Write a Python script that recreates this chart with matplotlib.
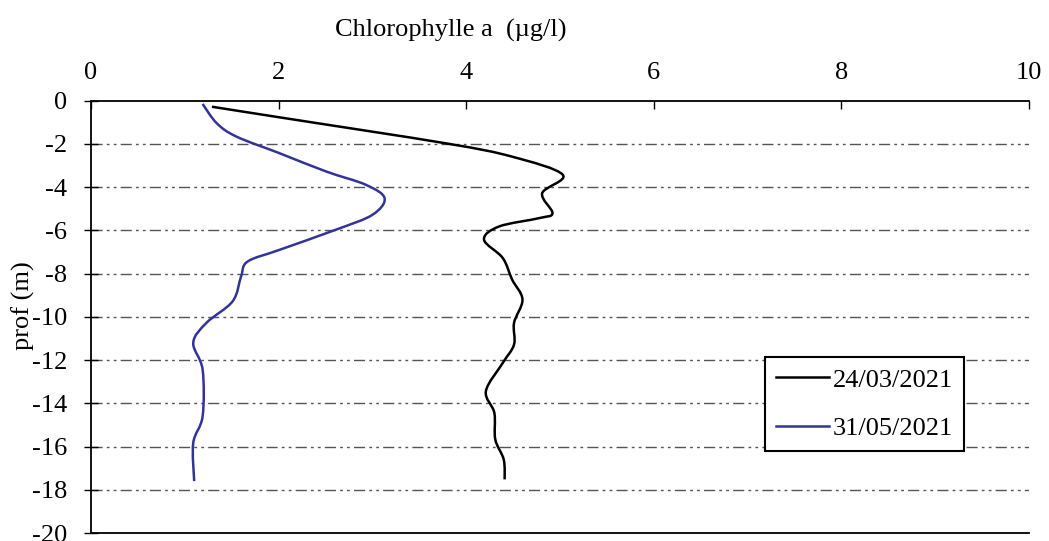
import matplotlib
matplotlib.use("Agg")
import matplotlib.pyplot as plt
from matplotlib.path import Path
from matplotlib.patches import PathPatch
from matplotlib.lines import Line2D

plt.rcParams['font.family'] = ['Liberation Serif', 'DejaVu Serif']

# Series 24/03/2021
chl_0324 = [1.29, 2.01, 3.78, 4.49, 5.03, 4.81, 4.92, 4.78, 4.35, 4.19, 4.39, 4.49,
            4.60, 4.51, 4.51, 4.39, 4.21, 4.30, 4.31, 4.40, 4.41]
depth_0324 = [-0.28, -0.77, -1.97, -2.59, -3.43, -4.28, -5.20, -5.43, -5.82, -6.43, -7.28, -8.28,
              -9.20, -10.28, -11.28, -12.13, -13.44, -14.44, -15.67, -16.60, -17.52]

# Series 31/05/2021
chl_0531 = [1.19, 1.34, 1.55, 2.01, 2.51, 2.93, 3.13, 3.00, 2.61, 2.01, 1.67, 1.60,
            1.51, 1.23, 1.09, 1.19, 1.19, 1.09, 1.10]
depth_0531 = [-0.15, -1.04, -1.66, -2.43, -3.28, -3.89, -4.51, -5.28, -5.97, -6.90, -7.44, -8.13,
              -9.28, -10.28, -11.20, -12.44, -14.60, -15.83, -17.60]

labels = ["24/03/2021", "31/05/2021"]
colors = ['black', '#333399']
x_ticks = [0, 2, 4, 6, 8, 10]
y_ticks = [0, -2, -4, -6, -8, -10, -12, -14, -16, -18, -20]


def smooth_path(xs, ys, t=1/6):
    """Excel-like smoothed line: cubic Bezier segments through the data points."""
    pts = list(zip(xs, ys))
    verts = [pts[0]]
    codes = [Path.MOVETO]
    n = len(pts)
    for i in range(n - 1):
        p0 = pts[i - 1] if i > 0 else pts[i]
        p1 = pts[i]
        p2 = pts[i + 1]
        p3 = pts[i + 2] if i + 2 < n else pts[i + 1]
        c1 = (p1[0] + (p2[0] - p0[0]) * t, p1[1] + (p2[1] - p0[1]) * t)
        c2 = (p2[0] - (p3[0] - p1[0]) * t, p2[1] - (p3[1] - p1[1]) * t)
        verts += [c1, c2, p2]
        codes += [Path.CURVE4] * 3
    return Path(verts, codes)


fig = plt.figure(figsize=(10.49, 5.41), dpi=100)
ax = fig.add_axes([91/1049, 1-533/541, (1029-91)/1049, (533-100.7)/541])

series = [(chl_0324, depth_0324), (chl_0531, depth_0531)]
for (xs, ys), c in zip(series, colors):
    ax.add_patch(PathPatch(smooth_path(xs, ys), fill=False, edgecolor=c, lw=1.8,
                           capstyle='butt', joinstyle='round', zorder=3))

ax.set_xlim(0, 10)
ax.set_ylim(-20, 0)
ax.set_xticks(x_ticks)
ax.set_yticks(y_ticks)
ax.set_yticklabels([str(v) for v in y_ticks])
ax.xaxis.tick_top()
ax.tick_params(axis='x', direction='in', length=6, width=1, labelsize=19, pad=12)
ax.tick_params(axis='y', direction='inout', length=10, width=1, labelsize=19, pad=12)

for g in y_ticks[1:-1]:
    ax.axhline(g, color='#555555', lw=1, linestyle=(0, (8, 3, 2, 3, 2, 3)), zorder=0)

ax.spines['right'].set_visible(False)
for s in ['top', 'bottom', 'left']:
    ax.spines[s].set_linewidth(1.3)

fig.text(451/1049, 1-30/541, "Chlorophylle a  (µg/l)", fontsize=19, ha='center', va='center')
fig.text(23/1049, 1-306/541, "prof (m)", fontsize=19, ha='center', va='center', rotation=90)

handles = [Line2D([], [], color=c, lw=1.8) for c in colors]
leg = ax.legend(handles, labels, loc='upper left',
                bbox_to_anchor=((765-91)/938, (533-357)/432.3),
                fontsize=19, frameon=True, fancybox=False, handlelength=2.0,
                borderpad=0.42, labelspacing=0.95, handletextpad=0.15, borderaxespad=0)
leg.get_frame().set_edgecolor('black')
leg.get_frame().set_linewidth(1.5)
leg.get_frame().set_alpha(1)

fig.savefig("out.png", dpi=100)
